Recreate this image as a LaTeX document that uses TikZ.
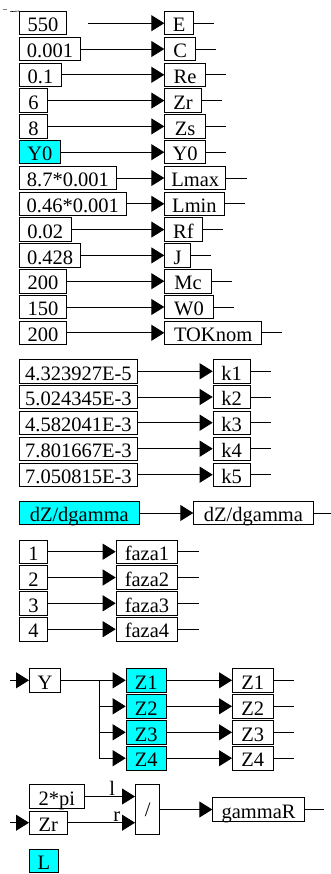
\documentclass[tikz,border=0pt]{standalone}
\usepackage{fontspec}
\setmainfont{Liberation Serif}
\usepackage{tikz}
\usetikzlibrary{arrows.meta}
\definecolor{simcyan}{RGB}{0,255,255}

\begin{document}
\begin{tikzpicture}[x=1pt,y=-1pt,line width=.9pt,
  blk/.style={draw,anchor=west,inner xsep=1pt,inner ysep=0pt,text height=20.5pt,
    text depth=3pt,minimum height=23.5pt,font=\fontsize{20.5}{24}\selectfont},
  sel/.style={blk,fill=simcyan},
  sig/.style={-{Triangle[length=13pt,width=16pt]}}]
  \useasboundingbox (0,0) rectangle (330,874);
  % parameters
  \node[blk,minimum width=47] (v1) at (19,23.2) {550};
  \node[blk,minimum width=61] (v2) at (19,49.0) {0.001};
  \node[blk,minimum width=42] (v3) at (19,74.8) {0.1};
  \node[blk,minimum width=28] (v4) at (19,100.6) {6};
  \node[blk,minimum width=28] (v5) at (19,126.4) {8};
  \node[sel,minimum width=41] (v6) at (19,152.2) {Y0};
  \node[blk,minimum width=97] (v7) at (19,178.0) {8.7*0.001};
  \node[blk,minimum width=106.7] (v8) at (19,203.8) {0.46*0.001};
  \node[blk,minimum width=51.7] (v9) at (19,229.6) {0.02};
  \node[blk,minimum width=61.3] (v10) at (19,255.4) {0.428};
  \node[blk,minimum width=47] (v11) at (19,281.2) {200};
  \node[blk,minimum width=47] (v12) at (19,307.0) {150};
  \node[blk,minimum width=47] (v13) at (19,332.8) {200};
  \node[blk,minimum width=28.7] (pE) at (164.3,23.2) {E};
  \node[blk,minimum width=30.7] (pC) at (164.3,49.0) {C};
  \node[blk,minimum width=40.7] (pRe) at (164.3,74.8) {Re};
  \node[blk,minimum width=36.7] (pZr) at (164.3,100.6) {Zr};
  \node[blk,minimum width=40.7] (pZs) at (164.3,126.4) {Zs};
  \node[blk,minimum width=40.7] (pY0) at (164.3,152.2) {Y0};
  \node[blk,minimum width=61] (pLmax) at (164.3,178.0) {Lmax};
  \node[blk,minimum width=59.4] (pLmin) at (164.3,203.8) {Lmin};
  \node[blk,minimum width=37.4] (pRf) at (164.3,229.6) {Rf};
  \node[blk,minimum width=25.7] (pJ) at (164.3,255.4) {J};
  \node[blk,minimum width=46.7] (pMc) at (164.3,281.2) {Mc};
  \node[blk,minimum width=48.4] (pW0) at (164.3,307.0) {W0};
  \node[blk,minimum width=96.7] (pTOK) at (164.3,332.8) {TOKnom};
  \draw[line width=.6pt] (10,11.7) -- (v1.north west);
  \draw[gray,line width=.5pt] (3,9.5) -- (7,9.5);
  \draw[sig] ([xshift=21pt]v1.east) -- (pE);
  \draw[sig] (v2) -- (pC);
  \draw[sig] (v3) -- (pRe);
  \draw[sig] (v4) -- (pZr);
  \draw[sig] (v5) -- (pZs);
  \draw[sig] (v6) -- (pY0);
  \draw[sig] (v7) -- (pLmax);
  \draw[sig] (v8) -- (pLmin);
  \draw[sig] (v9) -- (pRf);
  \draw[sig] (v10) -- (pJ);
  \draw[sig] (v11) -- (pMc);
  \draw[sig] (v12) -- (pW0);
  \draw[sig] (v13) -- (pTOK);
  \draw (pE.east) -- ++(20.5,0);
  \draw (pC.east) -- ++(20.5,0);
  \draw (pRe.east) -- ++(20.5,0);
  \draw (pZr.east) -- ++(20.5,0);
  \draw (pZs.east) -- ++(20.5,0);
  \draw (pY0.east) -- ++(20.5,0);
  \draw (pLmax.east) -- ++(20.5,0);
  \draw (pLmin.east) -- ++(20.5,0);
  \draw (pRf.east) -- ++(20.5,0);
  \draw (pJ.east) -- ++(20.5,0);
  \draw (pMc.east) -- ++(20.5,0);
  \draw (pW0.east) -- ++(20.5,0);
  \draw (pTOK.east) -- ++(20.5,0);
  % coefficients
  \node[blk,minimum width=118] (c1) at (19,371.3) {4.323927E-5};
  \node[blk,minimum width=118] (c2) at (19,397.0) {5.024345E-3};
  \node[blk,minimum width=118] (c3) at (19,422.7) {4.582041E-3};
  \node[blk,minimum width=118] (c4) at (19,448.7) {7.801667E-3};
  \node[blk,minimum width=118] (c5) at (19,474.7) {7.050815E-3};
  \node[blk,minimum width=37] (k1) at (212.7,371.3) {k1};
  \node[blk,minimum width=37] (k2) at (212.7,397.0) {k2};
  \node[blk,minimum width=37] (k3) at (212.7,422.7) {k3};
  \node[blk,minimum width=37] (k4) at (212.7,448.7) {k4};
  \node[blk,minimum width=37] (k5) at (212.7,474.7) {k5};
  \draw[sig] (c1) -- (k1);
  \draw[sig] (c2) -- (k2);
  \draw[sig] (c3) -- (k3);
  \draw[sig] (c4) -- (k4);
  \draw[sig] (c5) -- (k5);
  \draw (k1.east) -- ++(20.5,0);
  \draw (k2.east) -- ++(20.5,0);
  \draw (k3.east) -- ++(20.5,0);
  \draw (k4.east) -- ++(20.5,0);
  \draw (k5.east) -- ++(20.5,0);
  % derivative
  \node[sel,minimum width=119.7] (dzin) at (19,513) {dZ/dgamma};
  \node[blk,minimum width=119.4] (dzout) at (193.3,513) {dZ/dgamma};
  \draw[sig] (dzin) -- (dzout);
  \draw (dzout.east) -- ++(17.5,0);
  % phases
  \node[blk,minimum width=28] (f1) at (19,551.7) {1};
  \node[blk,minimum width=28] (f2) at (19,577.5) {2};
  \node[blk,minimum width=28] (f3) at (19,603.3) {3};
  \node[blk,minimum width=28] (f4) at (19,629.2) {4};
  \node[blk,minimum width=61.6] (faza1) at (115.7,551.7) {faza1};
  \node[blk,minimum width=61.6] (faza2) at (115.7,577.5) {faza2};
  \node[blk,minimum width=61.6] (faza3) at (115.7,603.3) {faza3};
  \node[blk,minimum width=61.6] (faza4) at (115.7,629.2) {faza4};
  \draw[sig] (f1) -- (faza1);
  \draw[sig] (f2) -- (faza2);
  \draw[sig] (f3) -- (faza3);
  \draw[sig] (f4) -- (faza4);
  \draw (faza1.east) -- ++(20.5,0);
  \draw (faza2.east) -- ++(20.5,0);
  \draw (faza3.east) -- ++(20.5,0);
  \draw (faza4.east) -- ++(20.5,0);
  % impedances
  \node[blk,minimum width=31] (Y) at (29,680.3) {Y};
  \node[sel,minimum width=40] (Z1) at (125.7,680.3) {Z1};
  \node[sel,minimum width=40] (Z2) at (125.7,706.3) {Z2};
  \node[sel,minimum width=40] (Z3) at (125.7,732.3) {Z3};
  \node[sel,minimum width=40] (Z4) at (125.7,758.2) {Z4};
  \node[blk,minimum width=40.7] (Zo1) at (232,680.3) {Z1};
  \node[blk,minimum width=40.7] (Zo2) at (232,706.3) {Z2};
  \node[blk,minimum width=40.7] (Zo3) at (232,732.3) {Z3};
  \node[blk,minimum width=40.7] (Zo4) at (232,758.2) {Z4};
  \coordinate (yin) at (10,680.3);
  \coordinate (jn) at (99,680.3);
  \draw[sig] (yin) -- (Y);
  \draw[sig] (Y) -- (Z1);
  \draw[sig] (jn) |- (Z4);
  \draw[sig] (jn |- Z2) -- (Z2);
  \draw[sig] (jn |- Z3) -- (Z3);
  \draw[sig] (Z1) -- (Zo1);
  \draw[sig] (Z2) -- (Zo2);
  \draw[sig] (Z3) -- (Zo3);
  \draw[sig] (Z4) -- (Zo4);
  \draw (Zo1.east) -- ++(20,0);
  \draw (Zo2.east) -- ++(20,0);
  \draw (Zo3.east) -- ++(20,0);
  \draw (Zo4.east) -- ++(20,0);
  % gamma
  \node[blk,minimum width=54.7] (tpi) at (29,796.5) {2*pi};
  \node[blk,minimum width=37.7] (zr) at (29,822.7) {Zr};
  \node[blk,minimum width=24.3,minimum height=50.4,text height=,text depth=] (dv) at (135,809.5) {/};
  \node[blk,minimum width=91.7] (gam) at (212.3,809.5) {gammaR};
  \node[sel,minimum width=29] (L) at (29,861) {L};
  \coordinate (zin) at (10,822.7);
  \draw[sig] (zin) -- (zr);
  \draw[sig] (tpi.east) -- (dv.west |- tpi.east)
    node[pos=.55,above,inner sep=1pt,font=\fontsize{20.5}{24}\selectfont]{l};
  \draw[sig] (zr.east) -- (dv.west |- zr.east)
    node[pos=.73,above,inner sep=1pt,font=\fontsize{20.5}{24}\selectfont]{r};
  \draw[sig] (dv) -- (gam);
  \draw (gam.east) -- ++(19,0);
\end{tikzpicture}
\end{document}
